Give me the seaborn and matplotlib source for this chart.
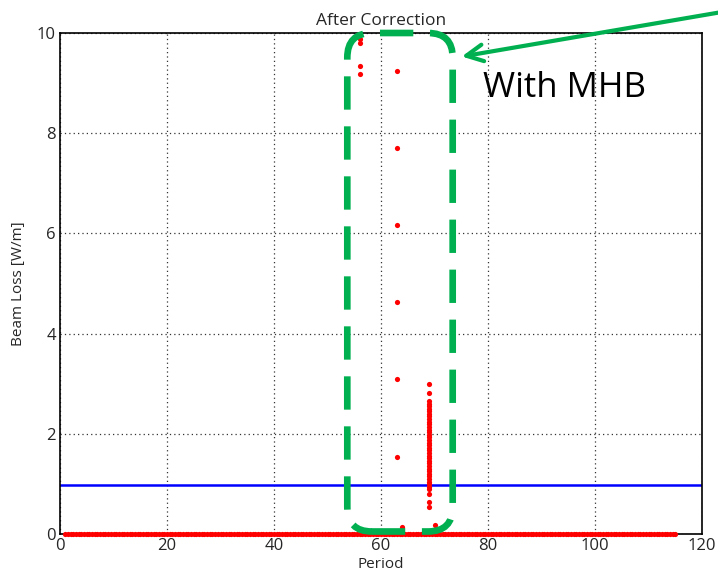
import numpy as np
import pandas as pd
import matplotlib
matplotlib.use("Agg")
import matplotlib.pyplot as plt
import seaborn as sns
from matplotlib.patches import FancyBboxPatch

# baseline samples (zero loss), every half period
base_period = np.arange(1.0, 115.5, 0.5)
base_loss = np.zeros(len(base_period))

# isolated loss points
p56_loss = [9.88, 9.80, 9.35, 9.18]
p63_loss = [9.25, 7.71, 6.17, 4.63, 3.09, 1.54]
p64_loss = [0.13]
p70_loss = [0.18]
p69_loss = [3.00, 2.82, 2.65, 2.60, 2.55, 2.50, 2.45, 2.40, 2.35, 2.29, 2.24,
            2.19, 2.14, 2.08, 2.03, 1.98, 1.93, 1.88, 1.82, 1.77, 1.72, 1.67,
            1.61, 1.56, 1.51, 1.46, 1.41, 1.36, 1.30, 1.25, 1.20, 1.15, 1.10,
            1.04, 0.99, 0.94, 0.89, 0.80, 0.63, 0.53]

threshold = 0.97

df = pd.concat([
    pd.DataFrame({"Period": base_period, "Loss": base_loss}),
    pd.DataFrame({"Period": 56, "Loss": p56_loss}),
    pd.DataFrame({"Period": 63, "Loss": p63_loss}),
    pd.DataFrame({"Period": 64, "Loss": p64_loss}),
    pd.DataFrame({"Period": 69, "Loss": p69_loss}),
    pd.DataFrame({"Period": 70, "Loss": p70_loss}),
])

sns.set_style("white")
plt.rcParams['font.family'] = ['Open Sans', 'DejaVu Sans']

fig = plt.figure(figsize=(7.18, 5.78), dpi=100)
ax = fig.add_axes([60 / 718, 1 - 534 / 578, 642 / 718, 501 / 578])

ax.axhline(threshold, color="blue", lw=1.8, zorder=2)
sns.scatterplot(data=df, x="Period", y="Loss", color="red", s=14,
                linewidth=0, ax=ax, zorder=3, clip_on=False)

ax.set_xlim(0, 120)
ax.set_ylim(0, 10)
ax.set_xticks(range(0, 121, 20))
ax.set_yticks(range(0, 11, 2))
ax.grid(True, color="#333333", linestyle=(0, (1, 2.5)), lw=0.9)
ax.tick_params(length=0, labelsize=12, pad=3)
for s in ax.spines.values():
    s.set_color("black")
    s.set_linewidth(1.2)
ax.set_xlabel("Period", fontsize=11, labelpad=2)
ax.set_ylabel("Beam Loss [W/m]", fontsize=11, labelpad=8)
ax.set_title("After Correction", fontsize=12.5, pad=6)

# dashed rounded box around MHB region
box = FancyBboxPatch((53.7, 0.05), 73.4 - 53.7, 10.0 - 0.05,
                     boxstyle="round,pad=0,rounding_size=4.6",
                     mutation_aspect=5.35 / 50.1,
                     fill=False, ec="#00B050", lw=4.8,
                     linestyle=(0, (5, 2.5)), zorder=4, clip_on=False)
ax.add_patch(box)

ax.annotate("", xy=(459, 578 - 57), xycoords="figure pixels",
            xytext=(722, 578 - 12), textcoords="figure pixels",
            arrowprops=dict(arrowstyle="->,head_length=1.2,head_width=0.6",
                            color="#00B050", lw=3))
fig.text(483, 578 - 88, "With MHB", transform=None, fontsize=25,
         va="center", ha="left", color="black")

fig.savefig("out.png", dpi=100)
